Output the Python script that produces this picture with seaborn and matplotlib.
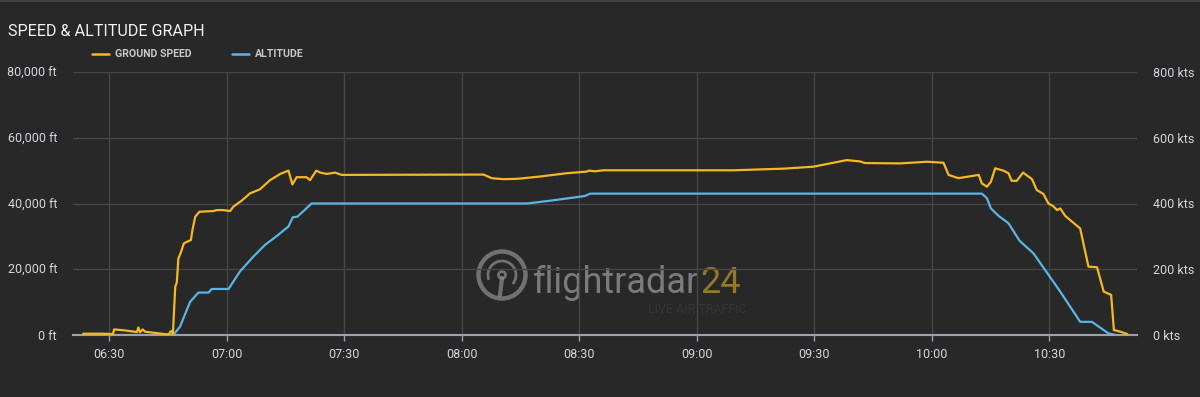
import matplotlib
matplotlib.use("Agg")
import matplotlib.pyplot as plt
from matplotlib.lines import Line2D
from matplotlib.patches import Circle, Arc, Rectangle
import seaborn as sns
import pandas as pd

# ---------------- data (minutes after 06:00) ----------------
speed_t = [23.4, 28, 31.0, 31.3, 34, 37.1, 37.5, 37.9, 38.6, 39.2, 42, 44.7, 45.4, 45.6, 46.0, 46.3,
           46.9, 47.3, 47.7, 48.3, 49.1, 50.9, 51.3, 52.0, 53.1, 56.6, 57.5, 59.2, 60.9, 61.7, 64,
           66.0, 68.5, 71.1, 73.7, 75.8, 76.8, 77.9, 80.4, 81.3, 82.9, 83.9, 85.6, 87.7, 89.4,
           125.6, 127.7, 130.7, 134.1, 140.0, 146.8, 151.9, 152.5, 154, 156.2, 189.4, 202.2,
           209.8, 213.2, 218.3, 221.7, 223.0, 232, 238.8, 243.0, 244.3, 246.8, 252.0, 252.8,
           254.1, 255.1, 256.2, 258.3, 259.6, 260.4, 261.7, 263.3, 265.6, 266.8, 268.5, 269.8,
           271.0, 272.0, 272.8, 274.1, 275.8, 277.9, 280.0, 282.2, 283.9, 285.8, 286.5, 288.2, 289.9]
speed_kts = [4, 4, 3, 17, 14, 9, 23, 8, 17, 10, 6, 2, 3, 10, 12, 3,
             147, 160, 233, 250, 279, 289, 320, 360, 375, 377, 380, 380, 377, 390, 410,
             431, 443, 471, 490, 500, 458, 480, 480, 471, 500, 494, 490, 494, 487,
             488, 477, 474, 475, 482, 492, 497, 500, 498, 501, 501, 506,
             512, 520, 532, 528, 523, 522, 527, 524, 487, 477, 487, 461,
             451, 466, 507, 500, 492, 469, 469, 494, 474, 441, 429, 400,
             392, 380, 385, 362, 345, 324, 208, 206, 132, 122, 15, 10, 3]

alt_t = [23.4, 46.4, 48.1, 50.7, 52.8, 55.4, 56.2, 60.5, 63.4, 66.8, 69.8, 72.8, 75.8, 76.9,
         78.1, 81.7, 136.7, 142.6, 150.2, 151.5, 152.8, 252.8, 254.1, 255.1, 257.1, 259.6,
         262.4, 266.0, 269.4, 272.8, 277.9, 280.9, 285.1, 287.0]
alt_ft = [0, 0, 2500, 10100, 12900, 12900, 14000, 14000, 19300, 23800, 27400, 30100, 33000, 35800,
          36000, 40000, 40000, 40850, 42070, 42300, 43000, 43000, 41600, 38500, 36200, 34000,
          28700, 24800, 19000, 13200, 4000, 4000, 500, 0]

x_tick_labels = ["06:30", "07:00", "07:30", "08:00", "08:30", "09:00", "09:30", "10:00", "10:30"]
alt_ticks = [0, 20000, 40000, 60000, 80000]
alt_tick_labels = ["0 ft", "20,000 ft", "40,000 ft", "60,000 ft", "80,000 ft"]
speed_ticks = [0, 200, 400, 600, 800]
speed_tick_labels = ["0 kts", "200 kts", "400 kts", "600 kts", "800 kts"]

title = "SPEED & ALTITUDE GRAPH"
legend_labels = ["GROUND SPEED", "ALTITUDE"]

# ---------------- style ----------------
BG = "#282828"
ORANGE = "#f5b822"
BLUE = "#5ab4e6"
GRID = "#464646"
AXIS = "#9aa2ad"
TXT = "#d4d6da"

sns.set_theme(style="dark")
plt.rcParams["font.family"] = ["Roboto", "DejaVu Sans"]

W, H = 1200, 397
fig = plt.figure(figsize=(W / 100, H / 100), dpi=100, facecolor=BG)

def px(x, y):
    return x / W, 1 - y / H

# top band
fig.add_artist(Rectangle((0, 1 - 2 / H), 1, 2 / H, transform=fig.transFigure,
                         facecolor="#424242", edgecolor="none"))

ax = fig.add_axes([73 / W, 62 / H, 1064 / W, 263 / H])
ax.set_facecolor("none")
ax2 = ax.twinx()
ax2.set_facecolor("none")

alt_df = pd.DataFrame({"t": alt_t, "alt": alt_ft})
spd_df = pd.DataFrame({"t": speed_t, "spd": speed_kts})

sns.lineplot(data=alt_df, x="t", y="alt", ax=ax, color=BLUE, linewidth=1.6,
             estimator=None, sort=False, zorder=3)
sns.lineplot(data=spd_df, x="t", y="spd", ax=ax2, color=ORANGE, linewidth=1.6,
             estimator=None, sort=False, zorder=3)

xticks = [int(s[:2]) * 60 + int(s[3:]) - 360 for s in x_tick_labels]
ax.set_xlim(20.8, 292.4)
ax.set_ylim(0, 80000)
ax2.set_ylim(0, 800)
ax.set_xticks(xticks)
ax.set_xticklabels(x_tick_labels)
ax.set_yticks(alt_ticks)
ax.set_yticklabels(alt_tick_labels)
ax2.set_yticks(speed_ticks)
ax2.set_yticklabels(speed_tick_labels)
ax.set_xlabel("")
ax.set_ylabel("")
ax2.set_ylabel("")

ax.grid(True, color=GRID, linewidth=1.0)
ax2.grid(False)
for a in (ax, ax2):
    for s in a.spines.values():
        s.set_visible(False)
ax.spines["bottom"].set_visible(True)
ax.spines["bottom"].set_color(AXIS)
ax.spines["bottom"].set_linewidth(1.5)
ax.spines["bottom"].set_zorder(4)

ax.tick_params(axis="x", length=4.5, width=1, color=AXIS, pad=5, labelsize=9, labelcolor=TXT,
               bottom=True, direction="out")
ax.tick_params(axis="y", length=0, pad=11.5, labelsize=9, labelcolor=TXT)
ax2.tick_params(axis="y", length=0, pad=11.5, labelsize=9, labelcolor=TXT)
ax2.set_xlim(ax.get_xlim())

# ---------------- title & legend ----------------
fig.text(*px(8, 31), title, fontsize=11.6, color="#f2f2f2", va="center", ha="left")

for (x0, x1, tx), col, lab in zip([(92, 109, 115), (232, 249, 255)], [ORANGE, BLUE], legend_labels):
    fig.add_artist(Line2D([x0 / W, x1 / W], [1 - 54 / H] * 2, transform=fig.transFigure,
                          color=col, linewidth=1.8))
    fig.text(*px(tx, 54), lab, fontsize=7.6, fontweight="bold", color="#c8c8c8",
             va="center", ha="left")

# ---------------- watermark ----------------
dt = fig.dpi_scale_trans
cx, cy = 502 / 100, (H - 275) / 100
wm = "#8a8a8a"
fig.add_artist(Circle((cx, cy), 0.235, transform=dt, fill=False, edgecolor=wm, linewidth=3.2,
                      alpha=0.75, zorder=-1))
fig.add_artist(Arc((cx, cy), 0.28, 0.28, angle=0, theta1=-40, theta2=200, transform=dt,
                   edgecolor=wm, linewidth=2.0, alpha=0.75, zorder=-1))
fig.add_artist(Circle((cx, cy), 0.035, transform=dt, fill=False, edgecolor=wm, linewidth=2.0,
                      alpha=0.75, zorder=-1))
fig.add_artist(Line2D([cx, cx - 0.02], [cy - 0.03, cy - 0.2], transform=dt, color=wm,
                      linewidth=3.0, alpha=0.75, zorder=-1))
t1 = fig.text(*px(533, 293), "flightradar", fontsize=26, color=wm, alpha=0.85,
              va="baseline", ha="left", zorder=-1)
renderer = fig.canvas.get_renderer()
bb = t1.get_window_extent(renderer)
fig.text(bb.x1 / W + 1 / W, 1 - 293 / H, "24", fontsize=26, color="#9c7e28", alpha=0.95,
         va="baseline", ha="left", zorder=-1)
fig.text(*px(747, 313), "LIVE AIR TRAFFIC", fontsize=9, color="#353535",
         va="baseline", ha="right", zorder=-1)

fig.savefig("out.png", dpi=100, facecolor=BG)
